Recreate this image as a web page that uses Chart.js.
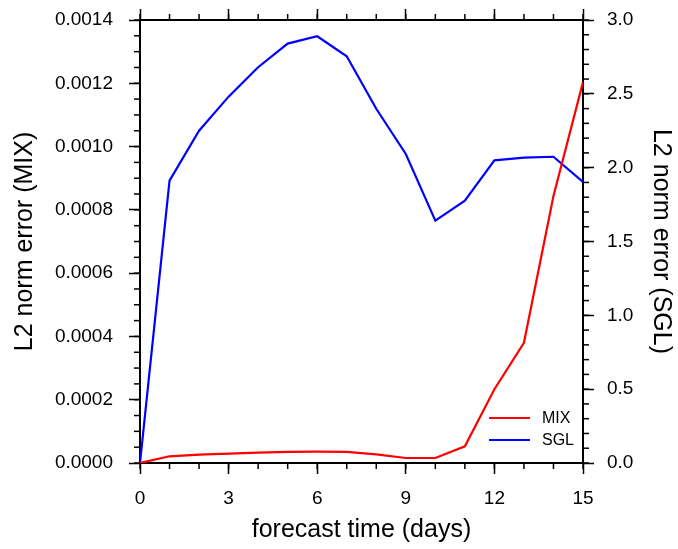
<!DOCTYPE html>
<html>
<head>
<meta charset="utf-8">
<script src="https://cdn.jsdelivr.net/npm/chart.js@4/dist/chart.umd.min.js"></script>
<style>
  html, body { margin: 0; padding: 0; background: #fff; }
  #wrap { width: 678px; height: 549px; position: relative; }
</style>
</head>
<body>
<div id="wrap"><canvas id="chart"></canvas></div>
<script>
// forecast day
const days = [0, 1, 2, 3, 4, 5, 6, 7, 8, 9, 10, 11, 12, 13, 14, 15];

// L2 norm error, MIX run (left axis)
const mixError = [0, 0.0000212, 0.0000265, 0.0000297, 0.000033, 0.000035, 0.000036, 0.000035,
  0.0000275, 0.0000158, 0.0000158, 0.0000528, 0.000233, 0.00038, 0.000844, 0.001204];

// L2 norm error, SGL run (right axis)
const sglError = [0, 1.912, 2.25, 2.481, 2.68, 2.84, 2.89, 2.754,
  2.399, 2.093, 1.641, 1.776, 2.05, 2.068, 2.074, 1.903];

// axis ranges and tick steps
const xRange = [0, 15];
const xStep = 3, xMinor = 1;
const mixRange = [0, 0.0014];
const mixStep = 0.0002, mixMinor = 0.00005;
const sglRange = [0, 3.0];
const sglStep = 0.5, sglMinor = 0.1;

const FONT = "'Liberation Sans', Arial, Helvetica, sans-serif";
const MAJOR = 11, MINOR = 6;

// small minor tick marks, drawn outward from each frame side
const minorTicks = {
  id: 'minorTicks',
  afterDraw(chart) {
    const ctx = chart.ctx;
    const a = chart.chartArea;
    const marks = [
      { scale: chart.scales.x, step: xMinor, side: 'bottom' },
      { scale: chart.scales.x2, step: xMinor, side: 'top' },
      { scale: chart.scales.y, step: mixMinor, side: 'left' },
      { scale: chart.scales.y2, step: sglMinor, side: 'right' }
    ];
    ctx.save();
    ctx.strokeStyle = '#000';
    ctx.lineWidth = 1.5;
    marks.forEach(m => {
      const n = Math.round((m.scale.max - m.scale.min) / m.step);
      for (let i = 0; i <= n; i++) {
        const p = m.scale.getPixelForValue(m.scale.min + i * m.step);
        ctx.beginPath();
        if (m.side === 'bottom') { ctx.moveTo(p, a.bottom); ctx.lineTo(p, a.bottom + MINOR); }
        if (m.side === 'top') { ctx.moveTo(p, a.top); ctx.lineTo(p, a.top - MINOR); }
        if (m.side === 'left') { ctx.moveTo(a.left, p); ctx.lineTo(a.left - MINOR, p); }
        if (m.side === 'right') { ctx.moveTo(a.right, p); ctx.lineTo(a.right + MINOR, p); }
        ctx.stroke();
      }
    });
    ctx.restore();
  }
};

// legend inside the lower right corner of the plot
const innerLegend = {
  id: 'innerLegend',
  afterDatasetsDraw(chart) {
    const ctx = chart.ctx;
    const a = chart.chartArea;
    const x0 = a.right - 94, x1 = a.right - 53;
    let y = a.bottom - 45;
    ctx.save();
    ctx.font = '16px ' + FONT;
    ctx.textBaseline = 'middle';
    ctx.fillStyle = '#000';
    chart.data.datasets.forEach(ds => {
      ctx.strokeStyle = ds.borderColor;
      ctx.lineWidth = 2;
      ctx.beginPath();
      ctx.moveTo(x0, y);
      ctx.lineTo(x1, y);
      ctx.stroke();
      ctx.fillText(ds.label, x1 + 12, y + 1);
      y += 22;
    });
    ctx.restore();
  }
};

function axisBase(extra) {
  return Object.assign({
    type: 'linear',
    border: { display: true, color: '#000', width: 2 },
    grid: { drawOnChartArea: false, drawTicks: true, tickLength: MAJOR, tickColor: '#000', tickWidth: 1.5, color: '#000' }
  }, extra);
}

// fix box sizes so the plot frame sits where the original one does
function sizeX(h) {
  return s => { s.height = h; s.paddingLeft = 0; s.paddingRight = 0; };
}
function sizeY(w) {
  return s => { s.width = w; s.paddingTop = 0; s.paddingBottom = 0; };
}

new Chart(document.getElementById('chart'), {
  type: 'line',
  data: {
    labels: days,
    datasets: [
      { label: 'MIX', data: days.map((d, i) => ({ x: d, y: mixError[i] })), borderColor: '#ff0000', yAxisID: 'y', xAxisID: 'x' },
      { label: 'SGL', data: days.map((d, i) => ({ x: d, y: sglError[i] })), borderColor: '#0000ff', yAxisID: 'y2', xAxisID: 'x' }
    ]
  },
  options: {
    responsive: true,
    maintainAspectRatio: false,
    animation: false,
    layout: { padding: 0 },
    elements: {
      line: { borderWidth: 2.2, tension: 0, fill: false },
      point: { radius: 0 }
    },
    plugins: {
      legend: { display: false },
      tooltip: { enabled: false }
    },
    scales: {
      x: axisBase({
        position: 'bottom',
        min: xRange[0], max: xRange[1],
        afterFit: sizeX(86),
        ticks: { stepSize: xStep, color: '#000', font: { family: FONT, size: 19 }, padding: 13, maxRotation: 0 },
        title: { display: true, text: 'forecast time (days)', color: '#000', font: { family: FONT, size: 25 }, padding: { top: 0, bottom: 4 } }
      }),
      x2: axisBase({
        position: 'top',
        min: xRange[0], max: xRange[1],
        afterFit: sizeX(20),
        ticks: { stepSize: xStep, display: false }
      }),
      y: axisBase({
        position: 'left',
        min: mixRange[0], max: mixRange[1],
        afterFit: sizeY(140),
        ticks: { stepSize: mixStep, color: '#000', font: { family: FONT, size: 19 }, padding: 16,
          callback: v => v.toFixed(4) },
        title: { display: true, text: 'L2 norm error (MIX)', color: '#000', font: { family: FONT, size: 25 }, padding: { top: 10, bottom: 0 } }
      }),
      y2: axisBase({
        position: 'right',
        min: sglRange[0], max: sglRange[1],
        afterFit: sizeY(95),
        ticks: { stepSize: sglStep, color: '#000', font: { family: FONT, size: 19 }, padding: 13,
          callback: v => v.toFixed(1) },
        title: { display: true, text: 'L2 norm error (SGL)', color: '#000', font: { family: FONT, size: 25 }, padding: { top: 2, bottom: 0 } }
      })
    }
  },
  plugins: [minorTicks, innerLegend]
});
</script>
</body>
</html>
